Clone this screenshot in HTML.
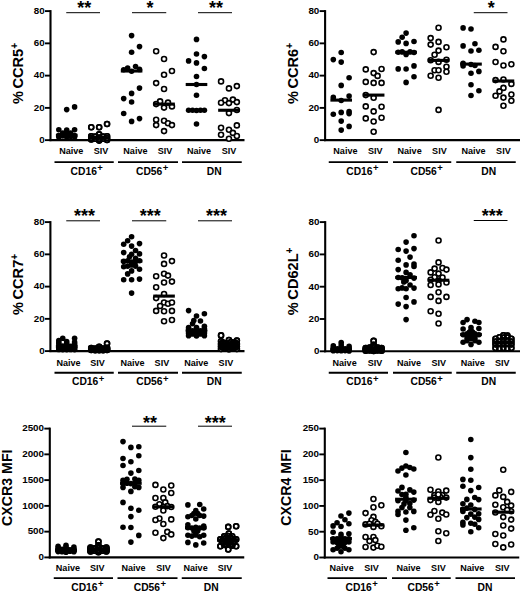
<!DOCTYPE html>
<html><head><meta charset="utf-8"><title>Figure</title>
<style>html,body{margin:0;padding:0;background:#fff}svg{display:block}text{font-family:"Liberation Sans",sans-serif;fill:#000}</style>
</head><body>
<svg width="520" height="593" viewBox="0 0 520 593">
<rect width="520" height="593" fill="#fff"/>
<path d="M50.5 10.1 V141.15" stroke="#000" stroke-width="2.1" fill="none"/>
<path d="M49.5 140.15 H244.5" stroke="#000" stroke-width="2.1" fill="none"/>
<path d="M45 140.15 H50.5" stroke="#000" stroke-width="1.9"/>
<text x="44.7" y="143" text-anchor="end" font-size="9.8" font-weight="bold">0</text>
<path d="M45 107.89 H50.5" stroke="#000" stroke-width="1.9"/>
<text x="44.7" y="110.74" text-anchor="end" font-size="9.8" font-weight="bold">20</text>
<path d="M45 75.62 H50.5" stroke="#000" stroke-width="1.9"/>
<text x="44.7" y="78.47" text-anchor="end" font-size="9.8" font-weight="bold">40</text>
<path d="M45 43.36 H50.5" stroke="#000" stroke-width="1.9"/>
<text x="44.7" y="46.21" text-anchor="end" font-size="9.8" font-weight="bold">60</text>
<path d="M45 11.1 H50.5" stroke="#000" stroke-width="1.9"/>
<text x="44.7" y="13.95" text-anchor="end" font-size="9.8" font-weight="bold">80</text>
<text transform="translate(23.4 73.53) rotate(-90)" text-anchor="middle" font-size="14.6" font-weight="bold">%<tspan dx="2.6">CCR5</tspan><tspan font-size="10" dy="-5">+</tspan></text>
<text x="71.25" y="153.95" text-anchor="middle" font-size="9.05" font-weight="bold">Naive</text>
<text x="101" y="153.95" text-anchor="middle" font-size="9.05" font-weight="bold">SIV</text>
<text x="135.4" y="153.95" text-anchor="middle" font-size="9.05" font-weight="bold">Naive</text>
<text x="165" y="153.95" text-anchor="middle" font-size="9.05" font-weight="bold">SIV</text>
<text x="199" y="153.95" text-anchor="middle" font-size="9.05" font-weight="bold">Naive</text>
<text x="229" y="153.95" text-anchor="middle" font-size="9.05" font-weight="bold">SIV</text>
<path d="M54.5 162.15 H113.75" stroke="#000" stroke-width="1.9"/>
<text x="70.6" y="174.85" font-size="10.3" font-weight="bold">CD16<tspan font-size="9.5" dx="0.3" dy="-3.7">+</tspan></text>
<path d="M118 162.15 H178" stroke="#000" stroke-width="1.9"/>
<text x="136" y="174.85" font-size="10.3" font-weight="bold">CD56<tspan font-size="9.5" dx="0.3" dy="-3.7">+</tspan></text>
<path d="M182 162.15 H241.75" stroke="#000" stroke-width="1.9"/>
<text x="206.75" y="174.85" font-size="10.3" font-weight="bold">DN</text>
<path d="M66.25 12.7 H100" stroke="#000" stroke-width="1"/>
<text x="84.2" y="14" text-anchor="middle" font-size="18" font-weight="bold">**</text>
<path d="M132 12.7 H166.25" stroke="#000" stroke-width="1"/>
<text x="150" y="14" text-anchor="middle" font-size="18" font-weight="bold">*</text>
<path d="M198 12.7 H232" stroke="#000" stroke-width="1"/>
<text x="216" y="14" text-anchor="middle" font-size="18" font-weight="bold">**</text>
<g fill="#000"><circle cx="66.7" cy="109.6" r="2.8"/><circle cx="74.6" cy="106.9" r="2.8"/><circle cx="58.8" cy="129.75" r="2.8"/><circle cx="66.7" cy="130" r="2.8"/><circle cx="74.6" cy="129.75" r="2.8"/><circle cx="58.8" cy="135.5" r="2.8"/><circle cx="62.75" cy="136" r="2.8"/><circle cx="66.7" cy="134" r="2.8"/><circle cx="70.65" cy="136.5" r="2.8"/><circle cx="74.6" cy="135.5" r="2.8"/><circle cx="62.75" cy="133" r="2.8"/><circle cx="70.65" cy="133" r="2.8"/><circle cx="66.7" cy="137" r="2.8"/><circle cx="58.8" cy="137" r="2.8"/><circle cx="74.6" cy="137" r="2.8"/></g>
<path d="M55.9 135.25 H77.5" stroke="#000" stroke-width="3.1"/>
<g fill="#fff" stroke="#000" stroke-width="1.6"><circle cx="107.05" cy="124" r="2.5"/><circle cx="91.25" cy="127.25" r="2.5"/><circle cx="99.15" cy="127.25" r="2.5"/><circle cx="91.25" cy="136.25" r="2.5"/><circle cx="99.15" cy="134.4" r="2.5"/><circle cx="107.05" cy="136.25" r="2.5"/><circle cx="91.25" cy="139.4" r="2.5"/><circle cx="95.2" cy="138.75" r="2.5"/><circle cx="99.15" cy="140.6" r="2.5"/><circle cx="103.1" cy="138.75" r="2.5"/><circle cx="107.05" cy="140" r="2.5"/><circle cx="95.2" cy="136.5" r="2.5"/><circle cx="103.1" cy="136.5" r="2.5"/><circle cx="99.15" cy="137.5" r="2.5"/><circle cx="91.25" cy="138" r="2.5"/><circle cx="107.05" cy="138.2" r="2.5"/><circle cx="99.15" cy="139" r="2.5"/></g>
<g fill="none" stroke="#000" stroke-width="1.6"><circle cx="107.05" cy="124" r="2.5"/><circle cx="91.25" cy="127.25" r="2.5"/><circle cx="99.15" cy="127.25" r="2.5"/><circle cx="91.25" cy="136.25" r="2.5"/><circle cx="99.15" cy="134.4" r="2.5"/><circle cx="107.05" cy="136.25" r="2.5"/><circle cx="91.25" cy="139.4" r="2.5"/><circle cx="95.2" cy="138.75" r="2.5"/><circle cx="99.15" cy="140.6" r="2.5"/><circle cx="103.1" cy="138.75" r="2.5"/><circle cx="107.05" cy="140" r="2.5"/><circle cx="95.2" cy="136.5" r="2.5"/><circle cx="103.1" cy="136.5" r="2.5"/><circle cx="99.15" cy="137.5" r="2.5"/><circle cx="91.25" cy="138" r="2.5"/><circle cx="107.05" cy="138.2" r="2.5"/><circle cx="99.15" cy="139" r="2.5"/></g>
<path d="M88.35 138 H109.95" stroke="#000" stroke-width="3.1"/>
<g fill="#000"><circle cx="131.6" cy="35.6" r="2.8"/><circle cx="139.5" cy="46.6" r="2.8"/><circle cx="131.6" cy="52.25" r="2.8"/><circle cx="135.55" cy="66.5" r="2.8"/><circle cx="127.65" cy="68.1" r="2.8"/><circle cx="123.7" cy="69.75" r="2.8"/><circle cx="131.6" cy="71.25" r="2.8"/><circle cx="139.5" cy="69.4" r="2.8"/><circle cx="139.5" cy="88.1" r="2.8"/><circle cx="131.6" cy="93.4" r="2.8"/><circle cx="123.7" cy="98.6" r="2.8"/><circle cx="131.6" cy="102" r="2.8"/><circle cx="123.7" cy="113.5" r="2.8"/><circle cx="139.5" cy="118.6" r="2.8"/><circle cx="131.6" cy="121.4" r="2.8"/></g>
<path d="M120.8 71 H142.4" stroke="#000" stroke-width="3.1"/>
<g fill="#fff" stroke="#000" stroke-width="1.6"><circle cx="156.15" cy="51.25" r="2.5"/><circle cx="164.05" cy="59" r="2.5"/><circle cx="171.95" cy="71" r="2.5"/><circle cx="164.05" cy="74.75" r="2.5"/><circle cx="156.15" cy="83.1" r="2.5"/><circle cx="164.05" cy="89" r="2.5"/><circle cx="160.1" cy="101.4" r="2.5"/><circle cx="168" cy="102.6" r="2.5"/><circle cx="156.15" cy="104.1" r="2.5"/><circle cx="164.05" cy="107.6" r="2.5"/><circle cx="171.95" cy="106.4" r="2.5"/><circle cx="156.15" cy="119.75" r="2.5"/><circle cx="156.15" cy="125.1" r="2.5"/><circle cx="164.05" cy="120.75" r="2.5"/><circle cx="168" cy="123.25" r="2.5"/><circle cx="171.95" cy="125.1" r="2.5"/><circle cx="164.05" cy="131.1" r="2.5"/></g>
<path d="M153.25 104.1 H174.85" stroke="#000" stroke-width="3.1"/>
<g fill="#000"><circle cx="196.5" cy="39.4" r="2.8"/><circle cx="196.5" cy="54" r="2.8"/><circle cx="204.4" cy="56.6" r="2.8"/><circle cx="188.6" cy="60.9" r="2.8"/><circle cx="196.5" cy="62.9" r="2.8"/><circle cx="204.4" cy="68.5" r="2.8"/><circle cx="196.5" cy="76.5" r="2.8"/><circle cx="196.5" cy="84.5" r="2.8"/><circle cx="196.5" cy="95.25" r="2.8"/><circle cx="188.6" cy="110.25" r="2.8"/><circle cx="192.55" cy="110.25" r="2.8"/><circle cx="196.5" cy="110.5" r="2.8"/><circle cx="200.45" cy="110.25" r="2.8"/><circle cx="204.4" cy="110.25" r="2.8"/><circle cx="196.5" cy="124" r="2.8"/></g>
<path d="M185.7 84.5 H207.3" stroke="#000" stroke-width="3.1"/>
<g fill="#fff" stroke="#000" stroke-width="1.6"><circle cx="221.05" cy="81.4" r="2.5"/><circle cx="236.85" cy="86.1" r="2.5"/><circle cx="228.95" cy="88.4" r="2.5"/><circle cx="225" cy="100.25" r="2.5"/><circle cx="232.9" cy="99.6" r="2.5"/><circle cx="221.05" cy="102.75" r="2.5"/><circle cx="228.95" cy="103.1" r="2.5"/><circle cx="236.85" cy="102.1" r="2.5"/><circle cx="236.85" cy="110" r="2.5"/><circle cx="228.95" cy="113.1" r="2.5"/><circle cx="236.85" cy="125.4" r="2.5"/><circle cx="221.05" cy="127.75" r="2.5"/><circle cx="228.95" cy="129.75" r="2.5"/><circle cx="232.9" cy="132.9" r="2.5"/><circle cx="221.05" cy="134.75" r="2.5"/><circle cx="236.85" cy="136" r="2.5"/><circle cx="228.95" cy="138.75" r="2.5"/></g>
<path d="M218.15 110.25 H239.75" stroke="#000" stroke-width="3.1"/>
<path d="M325.1 10.1 V141.15" stroke="#000" stroke-width="2.1" fill="none"/>
<path d="M324.1 140.15 H520" stroke="#000" stroke-width="2.1" fill="none"/>
<path d="M319.6 140.15 H325.1" stroke="#000" stroke-width="1.9"/>
<text x="319.3" y="143" text-anchor="end" font-size="9.8" font-weight="bold">0</text>
<path d="M319.6 107.89 H325.1" stroke="#000" stroke-width="1.9"/>
<text x="319.3" y="110.74" text-anchor="end" font-size="9.8" font-weight="bold">20</text>
<path d="M319.6 75.62 H325.1" stroke="#000" stroke-width="1.9"/>
<text x="319.3" y="78.47" text-anchor="end" font-size="9.8" font-weight="bold">40</text>
<path d="M319.6 43.36 H325.1" stroke="#000" stroke-width="1.9"/>
<text x="319.3" y="46.21" text-anchor="end" font-size="9.8" font-weight="bold">60</text>
<path d="M319.6 11.1 H325.1" stroke="#000" stroke-width="1.9"/>
<text x="319.3" y="13.95" text-anchor="end" font-size="9.8" font-weight="bold">80</text>
<text transform="translate(297.5 73.53) rotate(-90)" text-anchor="middle" font-size="14.6" font-weight="bold">%<tspan dx="2.6">CCR6</tspan><tspan font-size="10" dy="-5">+</tspan></text>
<text x="345.4" y="153.95" text-anchor="middle" font-size="9.05" font-weight="bold">Naive</text>
<text x="375.25" y="153.95" text-anchor="middle" font-size="9.05" font-weight="bold">SIV</text>
<text x="409.6" y="153.95" text-anchor="middle" font-size="9.05" font-weight="bold">Naive</text>
<text x="439.4" y="153.95" text-anchor="middle" font-size="9.05" font-weight="bold">SIV</text>
<text x="473.5" y="153.95" text-anchor="middle" font-size="9.05" font-weight="bold">Naive</text>
<text x="503.4" y="153.95" text-anchor="middle" font-size="9.05" font-weight="bold">SIV</text>
<path d="M328.75 162.15 H388" stroke="#000" stroke-width="1.9"/>
<text x="346.25" y="174.85" font-size="10.3" font-weight="bold">CD16<tspan font-size="9.5" dx="0.3" dy="-3.7">+</tspan></text>
<path d="M393 162.15 H451.25" stroke="#000" stroke-width="1.9"/>
<text x="410.5" y="174.85" font-size="10.3" font-weight="bold">CD56<tspan font-size="9.5" dx="0.3" dy="-3.7">+</tspan></text>
<path d="M456.25 162.15 H515.75" stroke="#000" stroke-width="1.9"/>
<text x="481.25" y="174.85" font-size="10.3" font-weight="bold">DN</text>
<path d="M473.75 12.7 H507.5" stroke="#000" stroke-width="1"/>
<text x="491.2" y="14" text-anchor="middle" font-size="18" font-weight="bold">*</text>
<g fill="#000"><circle cx="341.2" cy="52.5" r="2.8"/><circle cx="333.3" cy="59.6" r="2.8"/><circle cx="341.2" cy="62.1" r="2.8"/><circle cx="349.1" cy="77.75" r="2.8"/><circle cx="341.2" cy="85.4" r="2.8"/><circle cx="333.3" cy="97.4" r="2.8"/><circle cx="349.1" cy="96.1" r="2.8"/><circle cx="341.2" cy="100.5" r="2.8"/><circle cx="333.3" cy="114.25" r="2.8"/><circle cx="341.2" cy="112.4" r="2.8"/><circle cx="349.1" cy="111.5" r="2.8"/><circle cx="349.1" cy="113.6" r="2.8"/><circle cx="341.2" cy="121.1" r="2.8"/><circle cx="349.1" cy="126.4" r="2.8"/><circle cx="341.2" cy="130.1" r="2.8"/></g>
<path d="M330.4 100.1 H352" stroke="#000" stroke-width="3.1"/>
<g fill="#fff" stroke="#000" stroke-width="1.6"><circle cx="373.65" cy="52.1" r="2.5"/><circle cx="365.75" cy="69.4" r="2.5"/><circle cx="381.55" cy="69" r="2.5"/><circle cx="373.65" cy="73.1" r="2.5"/><circle cx="377.6" cy="75.9" r="2.5"/><circle cx="365.75" cy="81.9" r="2.5"/><circle cx="373.65" cy="82.9" r="2.5"/><circle cx="381.55" cy="82.9" r="2.5"/><circle cx="365.75" cy="95.1" r="2.5"/><circle cx="373.65" cy="97.75" r="2.5"/><circle cx="365.75" cy="106.4" r="2.5"/><circle cx="381.55" cy="106.75" r="2.5"/><circle cx="373.65" cy="111.4" r="2.5"/><circle cx="365.75" cy="118.4" r="2.5"/><circle cx="381.55" cy="117.75" r="2.5"/><circle cx="373.65" cy="121.5" r="2.5"/><circle cx="373.65" cy="131.75" r="2.5"/></g>
<path d="M362.85 95.1 H384.45" stroke="#000" stroke-width="3.1"/>
<g fill="#000"><circle cx="406.1" cy="33.1" r="2.8"/><circle cx="402.15" cy="37.25" r="2.8"/><circle cx="398.2" cy="41.9" r="2.8"/><circle cx="414" cy="41.5" r="2.8"/><circle cx="406.1" cy="43.4" r="2.8"/><circle cx="398.2" cy="52.25" r="2.8"/><circle cx="402.15" cy="51.9" r="2.8"/><circle cx="406.1" cy="54.4" r="2.8"/><circle cx="410.05" cy="51.9" r="2.8"/><circle cx="414" cy="52.5" r="2.8"/><circle cx="414" cy="65.9" r="2.8"/><circle cx="398.2" cy="68.9" r="2.8"/><circle cx="406.1" cy="69" r="2.8"/><circle cx="414" cy="76.75" r="2.8"/><circle cx="406.1" cy="82.4" r="2.8"/></g>
<path d="M395.3 52.25 H416.9" stroke="#000" stroke-width="3.1"/>
<g fill="#fff" stroke="#000" stroke-width="1.6"><circle cx="438.55" cy="27.75" r="2.5"/><circle cx="430.65" cy="38.1" r="2.5"/><circle cx="438.55" cy="41.9" r="2.5"/><circle cx="430.65" cy="44.6" r="2.5"/><circle cx="446.45" cy="47.25" r="2.5"/><circle cx="438.55" cy="50.6" r="2.5"/><circle cx="434.6" cy="54.75" r="2.5"/><circle cx="430.65" cy="60.25" r="2.5"/><circle cx="446.45" cy="59.75" r="2.5"/><circle cx="438.55" cy="61.9" r="2.5"/><circle cx="446.45" cy="66.75" r="2.5"/><circle cx="434.6" cy="70.25" r="2.5"/><circle cx="438.55" cy="70.25" r="2.5"/><circle cx="446.45" cy="71.75" r="2.5"/><circle cx="430.65" cy="75.75" r="2.5"/><circle cx="438.55" cy="77.75" r="2.5"/><circle cx="438.55" cy="109.9" r="2.5"/></g>
<path d="M427.75 60.4 H449.35" stroke="#000" stroke-width="3.1"/>
<g fill="#000"><circle cx="463.1" cy="27.9" r="2.8"/><circle cx="471" cy="29" r="2.8"/><circle cx="463.1" cy="45.9" r="2.8"/><circle cx="474.95" cy="43.75" r="2.8"/><circle cx="471" cy="51" r="2.8"/><circle cx="478.9" cy="50.25" r="2.8"/><circle cx="463.1" cy="63.25" r="2.8"/><circle cx="463.1" cy="66" r="2.8"/><circle cx="471" cy="64.5" r="2.8"/><circle cx="474.95" cy="65.5" r="2.8"/><circle cx="471" cy="73.25" r="2.8"/><circle cx="478.9" cy="71.4" r="2.8"/><circle cx="471" cy="84.75" r="2.8"/><circle cx="478.9" cy="90.75" r="2.8"/><circle cx="471" cy="95.5" r="2.8"/></g>
<path d="M460.2 64.1 H481.8" stroke="#000" stroke-width="3.1"/>
<g fill="#fff" stroke="#000" stroke-width="1.6"><circle cx="503.45" cy="39.4" r="2.5"/><circle cx="495.55" cy="46.9" r="2.5"/><circle cx="503.45" cy="51.25" r="2.5"/><circle cx="495.55" cy="62" r="2.5"/><circle cx="503.45" cy="65.5" r="2.5"/><circle cx="511.35" cy="64.2" r="2.5"/><circle cx="495.55" cy="80.1" r="2.5"/><circle cx="503.45" cy="79.5" r="2.5"/><circle cx="511.35" cy="83.9" r="2.5"/><circle cx="503.45" cy="87.9" r="2.5"/><circle cx="499.5" cy="91.4" r="2.5"/><circle cx="495.55" cy="95.75" r="2.5"/><circle cx="503.45" cy="97.6" r="2.5"/><circle cx="511.35" cy="94.5" r="2.5"/><circle cx="511.35" cy="100.75" r="2.5"/><circle cx="503.45" cy="105.75" r="2.5"/></g>
<path d="M492.65 81 H514.25" stroke="#000" stroke-width="3.1"/>
<path d="M50.4 221.1 V352.1" stroke="#000" stroke-width="2.1" fill="none"/>
<path d="M49.4 351.1 H244.5" stroke="#000" stroke-width="2.1" fill="none"/>
<path d="M44.9 351.1 H50.4" stroke="#000" stroke-width="1.9"/>
<text x="44.6" y="353.95" text-anchor="end" font-size="9.8" font-weight="bold">0</text>
<path d="M44.9 318.85 H50.4" stroke="#000" stroke-width="1.9"/>
<text x="44.6" y="321.7" text-anchor="end" font-size="9.8" font-weight="bold">20</text>
<path d="M44.9 286.6 H50.4" stroke="#000" stroke-width="1.9"/>
<text x="44.6" y="289.45" text-anchor="end" font-size="9.8" font-weight="bold">40</text>
<path d="M44.9 254.35 H50.4" stroke="#000" stroke-width="1.9"/>
<text x="44.6" y="257.2" text-anchor="end" font-size="9.8" font-weight="bold">60</text>
<path d="M44.9 222.1 H50.4" stroke="#000" stroke-width="1.9"/>
<text x="44.6" y="224.95" text-anchor="end" font-size="9.8" font-weight="bold">80</text>
<text transform="translate(22.9 284.5) rotate(-90)" text-anchor="middle" font-size="14.6" font-weight="bold">%<tspan dx="2.6">CCR7</tspan><tspan font-size="10" dy="-5">+</tspan></text>
<text x="68.5" y="365.6" text-anchor="middle" font-size="9.05" font-weight="bold">Naive</text>
<text x="97.5" y="365.6" text-anchor="middle" font-size="9.05" font-weight="bold">SIV</text>
<text x="132.5" y="365.6" text-anchor="middle" font-size="9.05" font-weight="bold">Naive</text>
<text x="161.9" y="365.6" text-anchor="middle" font-size="9.05" font-weight="bold">SIV</text>
<text x="196.25" y="365.6" text-anchor="middle" font-size="9.05" font-weight="bold">Naive</text>
<text x="225.9" y="365.6" text-anchor="middle" font-size="9.05" font-weight="bold">SIV</text>
<path d="M54.5 372.7 H113.75" stroke="#000" stroke-width="1.9"/>
<text x="72" y="385.4" font-size="10.3" font-weight="bold">CD16<tspan font-size="9.5" dx="0.3" dy="-3.7">+</tspan></text>
<path d="M118 372.7 H178" stroke="#000" stroke-width="1.9"/>
<text x="136.25" y="385.4" font-size="10.3" font-weight="bold">CD56<tspan font-size="9.5" dx="0.3" dy="-3.7">+</tspan></text>
<path d="M182 372.7 H241.75" stroke="#000" stroke-width="1.9"/>
<text x="206.75" y="385.4" font-size="10.3" font-weight="bold">DN</text>
<path d="M66.25 220.8 H100" stroke="#000" stroke-width="1"/>
<text x="84.4" y="221.9" text-anchor="middle" font-size="18" font-weight="bold">***</text>
<path d="M132 220.8 H166.25" stroke="#000" stroke-width="1"/>
<text x="150.25" y="221.9" text-anchor="middle" font-size="18" font-weight="bold">***</text>
<path d="M198 220.8 H232" stroke="#000" stroke-width="1"/>
<text x="216.6" y="221.9" text-anchor="middle" font-size="18" font-weight="bold">***</text>
<g fill="#000"><circle cx="62.75" cy="338.2" r="2.8"/><circle cx="74.6" cy="338.2" r="2.8"/><circle cx="58.8" cy="340.6" r="2.8"/><circle cx="66.7" cy="341.6" r="2.8"/><circle cx="58.8" cy="344" r="2.8"/><circle cx="74.6" cy="342" r="2.8"/><circle cx="70.65" cy="346.2" r="2.8"/><circle cx="62.75" cy="346" r="2.8"/><circle cx="66.7" cy="345" r="2.8"/><circle cx="74.6" cy="345.6" r="2.8"/><circle cx="58.8" cy="347.3" r="2.8"/><circle cx="70.65" cy="347.6" r="2.8"/><circle cx="62.75" cy="348.6" r="2.8"/><circle cx="66.7" cy="348.2" r="2.8"/><circle cx="74.6" cy="348.4" r="2.8"/><circle cx="58.8" cy="349.4" r="2.8"/><circle cx="70.65" cy="349.4" r="2.8"/><circle cx="66.7" cy="349.6" r="2.8"/><circle cx="62.75" cy="349.6" r="2.8"/><circle cx="74.6" cy="349.6" r="2.8"/><circle cx="58.8" cy="342.5" r="2.8"/><circle cx="66.7" cy="343.5" r="2.8"/><circle cx="70.65" cy="348.6" r="2.8"/><circle cx="62.75" cy="347.6" r="2.8"/><circle cx="74.6" cy="347" r="2.8"/><circle cx="66.7" cy="347" r="2.8"/><circle cx="58.8" cy="348.6" r="2.8"/><circle cx="74.6" cy="343.8" r="2.8"/></g>
<path d="M55.9 346.5 H77.5" stroke="#000" stroke-width="3.1"/>
<g fill="#fff" stroke="#000" stroke-width="1.6"><circle cx="107.05" cy="343.6" r="2.5"/><circle cx="91.25" cy="348" r="2.5"/><circle cx="99.15" cy="346.9" r="2.5"/><circle cx="107.05" cy="347.8" r="2.5"/><circle cx="91.25" cy="350" r="2.5"/><circle cx="95.2" cy="349.6" r="2.5"/><circle cx="99.15" cy="350.2" r="2.5"/><circle cx="103.1" cy="349.6" r="2.5"/><circle cx="107.05" cy="350" r="2.5"/><circle cx="95.2" cy="348.5" r="2.5"/><circle cx="103.1" cy="348.5" r="2.5"/><circle cx="99.15" cy="348.6" r="2.5"/><circle cx="91.25" cy="349" r="2.5"/><circle cx="107.05" cy="349" r="2.5"/><circle cx="93.15" cy="349.3" r="2.5"/><circle cx="97.15" cy="349.6" r="2.5"/><circle cx="101.15" cy="349.6" r="2.5"/><circle cx="105.15" cy="349.3" r="2.5"/><circle cx="99.15" cy="349.5" r="2.5"/><circle cx="95.2" cy="350.2" r="2.5"/><circle cx="103.1" cy="350.2" r="2.5"/></g>
<g fill="none" stroke="#000" stroke-width="1.6"><circle cx="107.05" cy="343.6" r="2.5"/><circle cx="91.25" cy="348" r="2.5"/><circle cx="99.15" cy="346.9" r="2.5"/><circle cx="107.05" cy="347.8" r="2.5"/><circle cx="91.25" cy="350" r="2.5"/><circle cx="95.2" cy="349.6" r="2.5"/><circle cx="99.15" cy="350.2" r="2.5"/><circle cx="103.1" cy="349.6" r="2.5"/><circle cx="107.05" cy="350" r="2.5"/><circle cx="95.2" cy="348.5" r="2.5"/><circle cx="103.1" cy="348.5" r="2.5"/><circle cx="99.15" cy="348.6" r="2.5"/><circle cx="91.25" cy="349" r="2.5"/><circle cx="107.05" cy="349" r="2.5"/><circle cx="93.15" cy="349.3" r="2.5"/><circle cx="97.15" cy="349.6" r="2.5"/><circle cx="101.15" cy="349.6" r="2.5"/><circle cx="105.15" cy="349.3" r="2.5"/><circle cx="99.15" cy="349.5" r="2.5"/><circle cx="95.2" cy="350.2" r="2.5"/><circle cx="103.1" cy="350.2" r="2.5"/></g>
<path d="M88.35 349.2 H109.95" stroke="#000" stroke-width="3.1"/>
<g fill="#000"><circle cx="131.6" cy="236.75" r="2.8"/><circle cx="127.65" cy="240.75" r="2.8"/><circle cx="123.7" cy="244.25" r="2.8"/><circle cx="139.5" cy="243.6" r="2.8"/><circle cx="131.6" cy="246.1" r="2.8"/><circle cx="135.55" cy="250.5" r="2.8"/><circle cx="123.7" cy="252.6" r="2.8"/><circle cx="139.5" cy="253.9" r="2.8"/><circle cx="131.6" cy="254.25" r="2.8"/><circle cx="129.5" cy="256.75" r="2.8"/><circle cx="135.55" cy="258.4" r="2.8"/><circle cx="123.7" cy="261.4" r="2.8"/><circle cx="127.65" cy="260.75" r="2.8"/><circle cx="139.5" cy="260.75" r="2.8"/><circle cx="131.6" cy="262.4" r="2.8"/><circle cx="135.55" cy="261.75" r="2.8"/><circle cx="123.7" cy="266.75" r="2.8"/><circle cx="127.65" cy="266.1" r="2.8"/><circle cx="131.6" cy="264.9" r="2.8"/><circle cx="135.55" cy="266.1" r="2.8"/><circle cx="139.5" cy="269.25" r="2.8"/><circle cx="131.6" cy="270.9" r="2.8"/><circle cx="127.65" cy="273.9" r="2.8"/><circle cx="123.7" cy="279.75" r="2.8"/><circle cx="131.6" cy="279.75" r="2.8"/><circle cx="139.5" cy="279.1" r="2.8"/><circle cx="131.6" cy="293.1" r="2.8"/></g>
<path d="M120.8 261.1 H142.4" stroke="#000" stroke-width="3.1"/>
<g fill="#fff" stroke="#000" stroke-width="1.6"><circle cx="164.05" cy="255.5" r="2.5"/><circle cx="171.95" cy="261.1" r="2.5"/><circle cx="164.05" cy="263.9" r="2.5"/><circle cx="164.05" cy="273.75" r="2.5"/><circle cx="156.15" cy="276.25" r="2.5"/><circle cx="168" cy="275.6" r="2.5"/><circle cx="164.05" cy="282.5" r="2.5"/><circle cx="171.95" cy="281.6" r="2.5"/><circle cx="156.15" cy="287.25" r="2.5"/><circle cx="164.05" cy="294" r="2.5"/><circle cx="156.15" cy="298.1" r="2.5"/><circle cx="164.05" cy="302.5" r="2.5"/><circle cx="168" cy="303.75" r="2.5"/><circle cx="171.95" cy="302.5" r="2.5"/><circle cx="160.1" cy="306" r="2.5"/><circle cx="156.15" cy="310.9" r="2.5"/><circle cx="164.05" cy="311.25" r="2.5"/><circle cx="171.95" cy="310.9" r="2.5"/><circle cx="164.05" cy="321.25" r="2.5"/><circle cx="171.95" cy="320" r="2.5"/></g>
<path d="M153.25 296.1 H174.85" stroke="#000" stroke-width="3.1"/>
<g fill="#000"><circle cx="188.6" cy="310.6" r="2.8"/><circle cx="204.4" cy="313.75" r="2.8"/><circle cx="196.5" cy="316" r="2.8"/><circle cx="193.8" cy="320.6" r="2.8"/><circle cx="200.45" cy="321" r="2.8"/><circle cx="192.55" cy="323.75" r="2.8"/><circle cx="196.5" cy="327.5" r="2.8"/><circle cx="188.6" cy="327.5" r="2.8"/><circle cx="204.4" cy="326.25" r="2.8"/><circle cx="188.6" cy="330.6" r="2.8"/><circle cx="192.55" cy="330.9" r="2.8"/><circle cx="196.5" cy="330.6" r="2.8"/><circle cx="200.45" cy="330.9" r="2.8"/><circle cx="204.4" cy="330.2" r="2.8"/><circle cx="188.6" cy="333.6" r="2.8"/><circle cx="192.55" cy="333.9" r="2.8"/><circle cx="196.5" cy="333.6" r="2.8"/><circle cx="200.45" cy="333.9" r="2.8"/><circle cx="204.4" cy="333.6" r="2.8"/><circle cx="188.6" cy="335.8" r="2.8"/><circle cx="196.5" cy="336" r="2.8"/><circle cx="204.4" cy="335.8" r="2.8"/><circle cx="196.5" cy="329" r="2.8"/><circle cx="188.6" cy="329" r="2.8"/><circle cx="204.4" cy="328.5" r="2.8"/><circle cx="196.5" cy="332" r="2.8"/></g>
<path d="M185.7 331 H207.3" stroke="#000" stroke-width="3.1"/>
<g fill="#fff" stroke="#000" stroke-width="1.6"><circle cx="221.05" cy="335.4" r="2.5"/><circle cx="228.95" cy="340" r="2.5"/><circle cx="236.85" cy="340.6" r="2.5"/><circle cx="221.05" cy="341.25" r="2.5"/><circle cx="221.05" cy="344" r="2.5"/><circle cx="225" cy="343.5" r="2.5"/><circle cx="228.95" cy="343.2" r="2.5"/><circle cx="232.9" cy="343.5" r="2.5"/><circle cx="236.85" cy="344" r="2.5"/><circle cx="221.05" cy="346.6" r="2.5"/><circle cx="225" cy="346.3" r="2.5"/><circle cx="228.95" cy="346.6" r="2.5"/><circle cx="232.9" cy="346.3" r="2.5"/><circle cx="236.85" cy="346.6" r="2.5"/><circle cx="221.05" cy="349" r="2.5"/><circle cx="225" cy="348.8" r="2.5"/><circle cx="228.95" cy="349.2" r="2.5"/><circle cx="232.9" cy="348.8" r="2.5"/><circle cx="236.85" cy="349" r="2.5"/><circle cx="228.95" cy="345" r="2.5"/><circle cx="232.9" cy="345" r="2.5"/><circle cx="222.95" cy="345" r="2.5"/><circle cx="226.95" cy="344.8" r="2.5"/><circle cx="230.95" cy="344.8" r="2.5"/><circle cx="234.95" cy="345" r="2.5"/><circle cx="222.95" cy="347.6" r="2.5"/><circle cx="226.95" cy="347.8" r="2.5"/><circle cx="230.95" cy="347.8" r="2.5"/><circle cx="234.95" cy="347.6" r="2.5"/><circle cx="222.95" cy="342.6" r="2.5"/><circle cx="230.95" cy="342" r="2.5"/><circle cx="234.95" cy="342.6" r="2.5"/></g>
<g fill="none" stroke="#000" stroke-width="1.6"><circle cx="221.05" cy="335.4" r="2.5"/><circle cx="228.95" cy="340" r="2.5"/><circle cx="236.85" cy="340.6" r="2.5"/><circle cx="221.05" cy="341.25" r="2.5"/><circle cx="221.05" cy="344" r="2.5"/><circle cx="225" cy="343.5" r="2.5"/><circle cx="228.95" cy="343.2" r="2.5"/><circle cx="232.9" cy="343.5" r="2.5"/><circle cx="236.85" cy="344" r="2.5"/><circle cx="221.05" cy="346.6" r="2.5"/><circle cx="225" cy="346.3" r="2.5"/><circle cx="228.95" cy="346.6" r="2.5"/><circle cx="232.9" cy="346.3" r="2.5"/><circle cx="236.85" cy="346.6" r="2.5"/><circle cx="221.05" cy="349" r="2.5"/><circle cx="225" cy="348.8" r="2.5"/><circle cx="228.95" cy="349.2" r="2.5"/><circle cx="232.9" cy="348.8" r="2.5"/><circle cx="236.85" cy="349" r="2.5"/><circle cx="228.95" cy="345" r="2.5"/><circle cx="232.9" cy="345" r="2.5"/><circle cx="222.95" cy="345" r="2.5"/><circle cx="226.95" cy="344.8" r="2.5"/><circle cx="230.95" cy="344.8" r="2.5"/><circle cx="234.95" cy="345" r="2.5"/><circle cx="222.95" cy="347.6" r="2.5"/><circle cx="226.95" cy="347.8" r="2.5"/><circle cx="230.95" cy="347.8" r="2.5"/><circle cx="234.95" cy="347.6" r="2.5"/><circle cx="222.95" cy="342.6" r="2.5"/><circle cx="230.95" cy="342" r="2.5"/><circle cx="234.95" cy="342.6" r="2.5"/></g>
<path d="M218.15 346 H239.75" stroke="#000" stroke-width="3.1"/>
<path d="M325.2 221.1 V352.3" stroke="#000" stroke-width="2.1" fill="none"/>
<path d="M324.2 351.3 H520" stroke="#000" stroke-width="2.1" fill="none"/>
<path d="M319.7 351.3 H325.2" stroke="#000" stroke-width="1.9"/>
<text x="319.4" y="354.15" text-anchor="end" font-size="9.8" font-weight="bold">0</text>
<path d="M319.7 319 H325.2" stroke="#000" stroke-width="1.9"/>
<text x="319.4" y="321.85" text-anchor="end" font-size="9.8" font-weight="bold">20</text>
<path d="M319.7 286.7 H325.2" stroke="#000" stroke-width="1.9"/>
<text x="319.4" y="289.55" text-anchor="end" font-size="9.8" font-weight="bold">40</text>
<path d="M319.7 254.4 H325.2" stroke="#000" stroke-width="1.9"/>
<text x="319.4" y="257.25" text-anchor="end" font-size="9.8" font-weight="bold">60</text>
<path d="M319.7 222.1 H325.2" stroke="#000" stroke-width="1.9"/>
<text x="319.4" y="224.95" text-anchor="end" font-size="9.8" font-weight="bold">80</text>
<text transform="translate(297.7 281.4) rotate(-90)" text-anchor="middle" font-size="14.6" font-weight="bold">%<tspan dx="2.6">CD62L</tspan><tspan font-size="10" dy="-5">+</tspan></text>
<text x="344.6" y="365.6" text-anchor="middle" font-size="9.05" font-weight="bold">Naive</text>
<text x="375" y="365.6" text-anchor="middle" font-size="9.05" font-weight="bold">SIV</text>
<text x="409" y="365.6" text-anchor="middle" font-size="9.05" font-weight="bold">Naive</text>
<text x="438.75" y="365.6" text-anchor="middle" font-size="9.05" font-weight="bold">SIV</text>
<text x="472.75" y="365.6" text-anchor="middle" font-size="9.05" font-weight="bold">Naive</text>
<text x="502.25" y="365.6" text-anchor="middle" font-size="9.05" font-weight="bold">SIV</text>
<path d="M328.75 372.7 H388" stroke="#000" stroke-width="1.9"/>
<text x="346.25" y="385.4" font-size="10.3" font-weight="bold">CD16<tspan font-size="9.5" dx="0.3" dy="-3.7">+</tspan></text>
<path d="M393 372.7 H451.75" stroke="#000" stroke-width="1.9"/>
<text x="410.5" y="385.4" font-size="10.3" font-weight="bold">CD56<tspan font-size="9.5" dx="0.3" dy="-3.7">+</tspan></text>
<path d="M456.25 372.7 H515.75" stroke="#000" stroke-width="1.9"/>
<text x="481.25" y="385.4" font-size="10.3" font-weight="bold">DN</text>
<path d="M473.75 220.5 H507.5" stroke="#000" stroke-width="1"/>
<text x="492.25" y="221.6" text-anchor="middle" font-size="18" font-weight="bold">***</text>
<g fill="#000"><circle cx="341.2" cy="342.6" r="2.8"/><circle cx="341.2" cy="345" r="2.8"/><circle cx="341.2" cy="347.3" r="2.8"/><circle cx="341.2" cy="349.4" r="2.8"/><circle cx="341.2" cy="350.8" r="2.8"/><circle cx="333.3" cy="345.75" r="2.8"/><circle cx="333.3" cy="347.8" r="2.8"/><circle cx="333.3" cy="349.6" r="2.8"/><circle cx="333.3" cy="350.8" r="2.8"/><circle cx="349.1" cy="346.4" r="2.8"/><circle cx="349.1" cy="348.3" r="2.8"/><circle cx="349.1" cy="350" r="2.8"/><circle cx="349.1" cy="350.9" r="2.8"/><circle cx="337.25" cy="348.8" r="2.8"/><circle cx="337.25" cy="350.6" r="2.8"/><circle cx="345.15" cy="348.8" r="2.8"/><circle cx="345.15" cy="350.6" r="2.8"/><circle cx="341.2" cy="348.4" r="2.8"/><circle cx="333.3" cy="348.8" r="2.8"/><circle cx="349.1" cy="349.2" r="2.8"/><circle cx="341.2" cy="350.2" r="2.8"/><circle cx="337.25" cy="349.7" r="2.8"/><circle cx="345.15" cy="349.7" r="2.8"/></g>
<path d="M330.4 350 H352" stroke="#000" stroke-width="3.1"/>
<g fill="#fff" stroke="#000" stroke-width="1.6"><circle cx="373.65" cy="340.9" r="2.5"/><circle cx="373.65" cy="344.75" r="2.5"/><circle cx="365.75" cy="348.1" r="2.5"/><circle cx="369.7" cy="347.5" r="2.5"/><circle cx="377.6" cy="347.5" r="2.5"/><circle cx="381.55" cy="348.1" r="2.5"/><circle cx="365.75" cy="350.8" r="2.5"/><circle cx="369.7" cy="350.4" r="2.5"/><circle cx="373.65" cy="351" r="2.5"/><circle cx="377.6" cy="350.4" r="2.5"/><circle cx="381.55" cy="350.8" r="2.5"/><circle cx="373.65" cy="348.2" r="2.5"/><circle cx="369.7" cy="349" r="2.5"/><circle cx="377.6" cy="349" r="2.5"/><circle cx="365.75" cy="349.5" r="2.5"/><circle cx="381.55" cy="349.5" r="2.5"/><circle cx="373.65" cy="349.6" r="2.5"/><circle cx="373.65" cy="347" r="2.5"/><circle cx="371.65" cy="350" r="2.5"/><circle cx="375.65" cy="350" r="2.5"/><circle cx="367.65" cy="349.8" r="2.5"/><circle cx="379.65" cy="349.8" r="2.5"/></g>
<g fill="none" stroke="#000" stroke-width="1.6"><circle cx="373.65" cy="340.9" r="2.5"/><circle cx="373.65" cy="344.75" r="2.5"/><circle cx="365.75" cy="348.1" r="2.5"/><circle cx="369.7" cy="347.5" r="2.5"/><circle cx="377.6" cy="347.5" r="2.5"/><circle cx="381.55" cy="348.1" r="2.5"/><circle cx="365.75" cy="350.8" r="2.5"/><circle cx="369.7" cy="350.4" r="2.5"/><circle cx="373.65" cy="351" r="2.5"/><circle cx="377.6" cy="350.4" r="2.5"/><circle cx="381.55" cy="350.8" r="2.5"/><circle cx="373.65" cy="348.2" r="2.5"/><circle cx="369.7" cy="349" r="2.5"/><circle cx="377.6" cy="349" r="2.5"/><circle cx="365.75" cy="349.5" r="2.5"/><circle cx="381.55" cy="349.5" r="2.5"/><circle cx="373.65" cy="349.6" r="2.5"/><circle cx="373.65" cy="347" r="2.5"/><circle cx="371.65" cy="350" r="2.5"/><circle cx="375.65" cy="350" r="2.5"/><circle cx="367.65" cy="349.8" r="2.5"/><circle cx="379.65" cy="349.8" r="2.5"/></g>
<path d="M362.85 349.8 H384.45" stroke="#000" stroke-width="3.1"/>
<g fill="#000"><circle cx="414" cy="235.75" r="2.8"/><circle cx="406.1" cy="242.1" r="2.8"/><circle cx="398.2" cy="249.5" r="2.8"/><circle cx="414" cy="248.6" r="2.8"/><circle cx="406.1" cy="251.1" r="2.8"/><circle cx="410.05" cy="257.1" r="2.8"/><circle cx="398.2" cy="260.25" r="2.8"/><circle cx="406.1" cy="264.9" r="2.8"/><circle cx="414" cy="264" r="2.8"/><circle cx="414" cy="266.5" r="2.8"/><circle cx="398.2" cy="269.6" r="2.8"/><circle cx="406.1" cy="272.4" r="2.8"/><circle cx="410.05" cy="274.9" r="2.8"/><circle cx="398.2" cy="277.5" r="2.8"/><circle cx="414" cy="278.1" r="2.8"/><circle cx="406.1" cy="280.6" r="2.8"/><circle cx="403.8" cy="281.9" r="2.8"/><circle cx="410.05" cy="285" r="2.8"/><circle cx="398.2" cy="288.75" r="2.8"/><circle cx="402.15" cy="287.9" r="2.8"/><circle cx="406.1" cy="288.75" r="2.8"/><circle cx="414" cy="288.1" r="2.8"/><circle cx="406.1" cy="297.5" r="2.8"/><circle cx="414" cy="301.9" r="2.8"/><circle cx="398.2" cy="304.1" r="2.8"/><circle cx="406.1" cy="306.6" r="2.8"/><circle cx="406.1" cy="319.6" r="2.8"/><circle cx="402.15" cy="277.8" r="2.8"/></g>
<path d="M395.3 277.5 H416.9" stroke="#000" stroke-width="3.1"/>
<g fill="#fff" stroke="#000" stroke-width="1.6"><circle cx="438.55" cy="240.5" r="2.5"/><circle cx="438.55" cy="262.4" r="2.5"/><circle cx="434.6" cy="268.6" r="2.5"/><circle cx="442.5" cy="268" r="2.5"/><circle cx="446.45" cy="269.6" r="2.5"/><circle cx="430.65" cy="272.4" r="2.5"/><circle cx="438.55" cy="273.6" r="2.5"/><circle cx="434.6" cy="277.25" r="2.5"/><circle cx="442.5" cy="277.5" r="2.5"/><circle cx="430.65" cy="279.75" r="2.5"/><circle cx="438.55" cy="280.6" r="2.5"/><circle cx="446.45" cy="282.5" r="2.5"/><circle cx="430.65" cy="285" r="2.5"/><circle cx="438.55" cy="284.4" r="2.5"/><circle cx="438.55" cy="292.25" r="2.5"/><circle cx="430.65" cy="296.9" r="2.5"/><circle cx="446.45" cy="296.9" r="2.5"/><circle cx="438.55" cy="300.9" r="2.5"/><circle cx="430.65" cy="311.25" r="2.5"/><circle cx="438.55" cy="313.75" r="2.5"/><circle cx="438.55" cy="323.5" r="2.5"/></g>
<path d="M427.75 280.25 H449.35" stroke="#000" stroke-width="3.1"/>
<g fill="#000"><circle cx="467.05" cy="319.6" r="2.8"/><circle cx="463.1" cy="322.5" r="2.8"/><circle cx="474.95" cy="321.25" r="2.8"/><circle cx="478.9" cy="322.5" r="2.8"/><circle cx="471" cy="327.5" r="2.8"/><circle cx="463.1" cy="329" r="2.8"/><circle cx="478.9" cy="328.5" r="2.8"/><circle cx="463.1" cy="334.75" r="2.8"/><circle cx="467.05" cy="333.75" r="2.8"/><circle cx="471" cy="333" r="2.8"/><circle cx="474.95" cy="333.75" r="2.8"/><circle cx="478.9" cy="334.75" r="2.8"/><circle cx="471" cy="330.6" r="2.8"/><circle cx="468.7" cy="336.25" r="2.8"/><circle cx="473.3" cy="336.25" r="2.8"/><circle cx="471" cy="338.75" r="2.8"/><circle cx="467.05" cy="338" r="2.8"/><circle cx="474.95" cy="338" r="2.8"/><circle cx="463.1" cy="342.25" r="2.8"/><circle cx="478.9" cy="342.25" r="2.8"/><circle cx="467.05" cy="340.6" r="2.8"/><circle cx="474.95" cy="340.6" r="2.8"/><circle cx="471" cy="344.4" r="2.8"/><circle cx="471" cy="335" r="2.8"/><circle cx="471" cy="336.8" r="2.8"/><circle cx="469.5" cy="332" r="2.8"/><circle cx="472.5" cy="332" r="2.8"/></g>
<path d="M460.2 334.4 H481.8" stroke="#000" stroke-width="3.1"/>
<g fill="#fff" stroke="#000" stroke-width="1.6"><circle cx="503.45" cy="335.2" r="2.5"/><circle cx="507.4" cy="335.6" r="2.5"/><circle cx="499.5" cy="337.25" r="2.5"/><circle cx="503.45" cy="337.6" r="2.5"/><circle cx="507.4" cy="337.5" r="2.5"/><circle cx="495.55" cy="338.7" r="2.5"/><circle cx="511.35" cy="338.7" r="2.5"/><circle cx="495.55" cy="341.5" r="2.5"/><circle cx="499.5" cy="341" r="2.5"/><circle cx="503.45" cy="341.25" r="2.5"/><circle cx="507.4" cy="341" r="2.5"/><circle cx="511.35" cy="341.5" r="2.5"/><circle cx="495.55" cy="344.6" r="2.5"/><circle cx="499.5" cy="344.2" r="2.5"/><circle cx="503.45" cy="344.4" r="2.5"/><circle cx="507.4" cy="344.2" r="2.5"/><circle cx="511.35" cy="344.6" r="2.5"/><circle cx="495.55" cy="348.1" r="2.5"/><circle cx="499.5" cy="348.4" r="2.5"/><circle cx="503.45" cy="348.1" r="2.5"/><circle cx="507.4" cy="348.4" r="2.5"/><circle cx="511.35" cy="348.1" r="2.5"/></g>
<g fill="none" stroke="#000" stroke-width="1.6"><circle cx="503.45" cy="335.2" r="2.5"/><circle cx="507.4" cy="335.6" r="2.5"/><circle cx="499.5" cy="337.25" r="2.5"/><circle cx="503.45" cy="337.6" r="2.5"/><circle cx="507.4" cy="337.5" r="2.5"/><circle cx="495.55" cy="338.7" r="2.5"/><circle cx="511.35" cy="338.7" r="2.5"/><circle cx="495.55" cy="341.5" r="2.5"/><circle cx="499.5" cy="341" r="2.5"/><circle cx="503.45" cy="341.25" r="2.5"/><circle cx="507.4" cy="341" r="2.5"/><circle cx="511.35" cy="341.5" r="2.5"/><circle cx="495.55" cy="344.6" r="2.5"/><circle cx="499.5" cy="344.2" r="2.5"/><circle cx="503.45" cy="344.4" r="2.5"/><circle cx="507.4" cy="344.2" r="2.5"/><circle cx="511.35" cy="344.6" r="2.5"/><circle cx="495.55" cy="348.1" r="2.5"/><circle cx="499.5" cy="348.4" r="2.5"/><circle cx="503.45" cy="348.1" r="2.5"/><circle cx="507.4" cy="348.4" r="2.5"/><circle cx="511.35" cy="348.1" r="2.5"/></g>
<path d="M492.65 343 H514.25" stroke="#000" stroke-width="3.1"/>
<path d="M49.8 427.6 V558.4" stroke="#000" stroke-width="2.1" fill="none"/>
<path d="M48.8 557.4 H244.25" stroke="#000" stroke-width="2.1" fill="none"/>
<path d="M44.3 557.4 H49.8" stroke="#000" stroke-width="1.9"/>
<text x="44" y="560.25" text-anchor="end" font-size="9.8" font-weight="bold">0</text>
<path d="M44.3 531.64 H49.8" stroke="#000" stroke-width="1.9"/>
<text x="44" y="534.49" text-anchor="end" font-size="9.8" font-weight="bold">500</text>
<path d="M44.3 505.88 H49.8" stroke="#000" stroke-width="1.9"/>
<text x="44" y="508.73" text-anchor="end" font-size="9.8" font-weight="bold">1000</text>
<path d="M44.3 480.12 H49.8" stroke="#000" stroke-width="1.9"/>
<text x="44" y="482.97" text-anchor="end" font-size="9.8" font-weight="bold">1500</text>
<path d="M44.3 454.36 H49.8" stroke="#000" stroke-width="1.9"/>
<text x="44" y="457.21" text-anchor="end" font-size="9.8" font-weight="bold">2000</text>
<path d="M44.3 428.6 H49.8" stroke="#000" stroke-width="1.9"/>
<text x="44" y="431.45" text-anchor="end" font-size="9.8" font-weight="bold">2500</text>
<text transform="translate(12 487.7) rotate(-90)" text-anchor="middle" font-size="14.2" font-weight="bold">CXCR3 MFI</text>
<text x="67.9" y="570.8" text-anchor="middle" font-size="9.05" font-weight="bold">Naive</text>
<text x="97.25" y="570.8" text-anchor="middle" font-size="9.05" font-weight="bold">SIV</text>
<text x="133.5" y="570.8" text-anchor="middle" font-size="9.05" font-weight="bold">Naive</text>
<text x="163.5" y="570.8" text-anchor="middle" font-size="9.05" font-weight="bold">SIV</text>
<text x="195.6" y="570.8" text-anchor="middle" font-size="9.05" font-weight="bold">Naive</text>
<text x="225" y="570.8" text-anchor="middle" font-size="9.05" font-weight="bold">SIV</text>
<path d="M53.75 578.1 H113" stroke="#000" stroke-width="1.9"/>
<text x="71.25" y="590.8" font-size="10.3" font-weight="bold">CD16<tspan font-size="9.5" dx="0.3" dy="-3.7">+</tspan></text>
<path d="M117.5 578.1 H177.5" stroke="#000" stroke-width="1.9"/>
<text x="133.75" y="590.8" font-size="10.3" font-weight="bold">CD56<tspan font-size="9.5" dx="0.3" dy="-3.7">+</tspan></text>
<path d="M181.75 578.1 H241.75" stroke="#000" stroke-width="1.9"/>
<text x="203.75" y="590.8" font-size="10.3" font-weight="bold">DN</text>
<path d="M132 426.2 H166.25" stroke="#000" stroke-width="1"/>
<text x="150.1" y="428.6" text-anchor="middle" font-size="18" font-weight="bold">**</text>
<path d="M198 426.2 H232" stroke="#000" stroke-width="1"/>
<text x="215.25" y="428.6" text-anchor="middle" font-size="18" font-weight="bold">***</text>
<g fill="#000"><circle cx="58.1" cy="546.3" r="2.8"/><circle cx="58.1" cy="548.4" r="2.8"/><circle cx="58.1" cy="550.4" r="2.8"/><circle cx="58.1" cy="551.6" r="2.8"/><circle cx="66" cy="545.2" r="2.8"/><circle cx="66" cy="547.4" r="2.8"/><circle cx="66" cy="549.6" r="2.8"/><circle cx="66" cy="551.4" r="2.8"/><circle cx="66" cy="552.2" r="2.8"/><circle cx="73.9" cy="547" r="2.8"/><circle cx="73.9" cy="549" r="2.8"/><circle cx="73.9" cy="550.8" r="2.8"/><circle cx="73.9" cy="551.8" r="2.8"/><circle cx="62.05" cy="549.4" r="2.8"/><circle cx="62.05" cy="551" r="2.8"/><circle cx="69.95" cy="549.8" r="2.8"/><circle cx="69.95" cy="551.2" r="2.8"/><circle cx="60" cy="550" r="2.8"/><circle cx="72" cy="550.2" r="2.8"/><circle cx="64" cy="550.6" r="2.8"/><circle cx="68" cy="550.8" r="2.8"/><circle cx="58.1" cy="549.6" r="2.8"/><circle cx="73.9" cy="550" r="2.8"/><circle cx="66" cy="548.6" r="2.8"/><circle cx="66" cy="550.6" r="2.8"/><circle cx="62.05" cy="550.2" r="2.8"/><circle cx="69.95" cy="550.6" r="2.8"/><circle cx="62.05" cy="551.8" r="2.8"/></g>
<path d="M55.2 550.2 H76.8" stroke="#000" stroke-width="3.1"/>
<g fill="#fff" stroke="#000" stroke-width="1.6"><circle cx="98.45" cy="541.6" r="2.5"/><circle cx="98.45" cy="545.4" r="2.5"/><circle cx="90.55" cy="547.6" r="2.5"/><circle cx="90.55" cy="550.4" r="2.5"/><circle cx="106.35" cy="547.6" r="2.5"/><circle cx="106.35" cy="550.4" r="2.5"/><circle cx="94.5" cy="549.4" r="2.5"/><circle cx="102.4" cy="549.4" r="2.5"/><circle cx="98.45" cy="548.4" r="2.5"/><circle cx="98.45" cy="551.2" r="2.5"/><circle cx="90.55" cy="549" r="2.5"/><circle cx="106.35" cy="549" r="2.5"/><circle cx="94.5" cy="550.8" r="2.5"/><circle cx="102.4" cy="550.8" r="2.5"/><circle cx="94.5" cy="548.4" r="2.5"/><circle cx="102.4" cy="548.4" r="2.5"/><circle cx="98.45" cy="549.9" r="2.5"/><circle cx="90.55" cy="551.5" r="2.5"/><circle cx="106.35" cy="551.5" r="2.5"/><circle cx="98.45" cy="547.2" r="2.5"/><circle cx="98.45" cy="552.2" r="2.5"/></g>
<g fill="none" stroke="#000" stroke-width="1.6"><circle cx="98.45" cy="541.6" r="2.5"/><circle cx="98.45" cy="545.4" r="2.5"/><circle cx="90.55" cy="547.6" r="2.5"/><circle cx="90.55" cy="550.4" r="2.5"/><circle cx="106.35" cy="547.6" r="2.5"/><circle cx="106.35" cy="550.4" r="2.5"/><circle cx="94.5" cy="549.4" r="2.5"/><circle cx="102.4" cy="549.4" r="2.5"/><circle cx="98.45" cy="548.4" r="2.5"/><circle cx="98.45" cy="551.2" r="2.5"/><circle cx="90.55" cy="549" r="2.5"/><circle cx="106.35" cy="549" r="2.5"/><circle cx="94.5" cy="550.8" r="2.5"/><circle cx="102.4" cy="550.8" r="2.5"/><circle cx="94.5" cy="548.4" r="2.5"/><circle cx="102.4" cy="548.4" r="2.5"/><circle cx="98.45" cy="549.9" r="2.5"/><circle cx="90.55" cy="551.5" r="2.5"/><circle cx="106.35" cy="551.5" r="2.5"/><circle cx="98.45" cy="547.2" r="2.5"/><circle cx="98.45" cy="552.2" r="2.5"/></g>
<path d="M87.65 549.8 H109.25" stroke="#000" stroke-width="3.1"/>
<g fill="#000"><circle cx="123" cy="441.6" r="2.8"/><circle cx="130.9" cy="447.4" r="2.8"/><circle cx="138.8" cy="446.75" r="2.8"/><circle cx="138.8" cy="455.75" r="2.8"/><circle cx="123" cy="458.5" r="2.8"/><circle cx="130.9" cy="461.75" r="2.8"/><circle cx="123" cy="465.5" r="2.8"/><circle cx="138.8" cy="470.5" r="2.8"/><circle cx="130.9" cy="473.1" r="2.8"/><circle cx="123" cy="480.3" r="2.8"/><circle cx="126.95" cy="479.2" r="2.8"/><circle cx="134.85" cy="479.1" r="2.8"/><circle cx="138.8" cy="480.3" r="2.8"/><circle cx="130.9" cy="483.6" r="2.8"/><circle cx="126.95" cy="483.2" r="2.8"/><circle cx="134.85" cy="483.4" r="2.8"/><circle cx="123" cy="483.4" r="2.8"/><circle cx="123" cy="487.4" r="2.8"/><circle cx="134.85" cy="486.75" r="2.8"/><circle cx="138.8" cy="487.4" r="2.8"/><circle cx="130.9" cy="491.4" r="2.8"/><circle cx="123" cy="502.4" r="2.8"/><circle cx="130.9" cy="508.3" r="2.8"/><circle cx="138.8" cy="510.25" r="2.8"/><circle cx="130.9" cy="516.6" r="2.8"/><circle cx="123" cy="527.25" r="2.8"/><circle cx="130.9" cy="527.5" r="2.8"/><circle cx="138.8" cy="535.4" r="2.8"/><circle cx="130.9" cy="542.1" r="2.8"/></g>
<path d="M120.1 483.3 H141.7" stroke="#000" stroke-width="3.1"/>
<g fill="#fff" stroke="#000" stroke-width="1.6"><circle cx="155.45" cy="484.9" r="2.5"/><circle cx="171.25" cy="485.5" r="2.5"/><circle cx="163.35" cy="489.5" r="2.5"/><circle cx="171.25" cy="493" r="2.5"/><circle cx="155.45" cy="498" r="2.5"/><circle cx="163.35" cy="498" r="2.5"/><circle cx="165.25" cy="502.4" r="2.5"/><circle cx="159.4" cy="504.25" r="2.5"/><circle cx="155.45" cy="506.75" r="2.5"/><circle cx="171.25" cy="507" r="2.5"/><circle cx="167.3" cy="506.1" r="2.5"/><circle cx="163.35" cy="507" r="2.5"/><circle cx="163.35" cy="510.5" r="2.5"/><circle cx="159.4" cy="518.5" r="2.5"/><circle cx="171.25" cy="519.4" r="2.5"/><circle cx="155.45" cy="520" r="2.5"/><circle cx="163.35" cy="524" r="2.5"/><circle cx="155.45" cy="532.75" r="2.5"/><circle cx="167.3" cy="531.9" r="2.5"/><circle cx="171.25" cy="534.4" r="2.5"/><circle cx="163.35" cy="538.1" r="2.5"/></g>
<path d="M152.55 506.8 H174.15" stroke="#000" stroke-width="3.1"/>
<g fill="#000"><circle cx="187.9" cy="504.9" r="2.8"/><circle cx="199.75" cy="504.5" r="2.8"/><circle cx="203.7" cy="509" r="2.8"/><circle cx="195.8" cy="510.5" r="2.8"/><circle cx="193.9" cy="513.6" r="2.8"/><circle cx="197.7" cy="513.6" r="2.8"/><circle cx="187.9" cy="516.75" r="2.8"/><circle cx="191.85" cy="515.5" r="2.8"/><circle cx="199.75" cy="515.5" r="2.8"/><circle cx="203.7" cy="516.1" r="2.8"/><circle cx="195.8" cy="519" r="2.8"/><circle cx="187.9" cy="524.9" r="2.8"/><circle cx="203.7" cy="526.1" r="2.8"/><circle cx="191.85" cy="528" r="2.8"/><circle cx="195.8" cy="527.4" r="2.8"/><circle cx="199.75" cy="528" r="2.8"/><circle cx="187.9" cy="527.75" r="2.8"/><circle cx="193.9" cy="531.1" r="2.8"/><circle cx="197.7" cy="531.1" r="2.8"/><circle cx="187.9" cy="535.25" r="2.8"/><circle cx="191.85" cy="536.1" r="2.8"/><circle cx="195.8" cy="534.9" r="2.8"/><circle cx="199.75" cy="536.75" r="2.8"/><circle cx="203.7" cy="535.25" r="2.8"/><circle cx="187.9" cy="542.4" r="2.8"/><circle cx="195.8" cy="544.9" r="2.8"/><circle cx="203.7" cy="543" r="2.8"/><circle cx="203.7" cy="528" r="2.8"/></g>
<path d="M185 527.75 H206.6" stroke="#000" stroke-width="3.1"/>
<g fill="#fff" stroke="#000" stroke-width="1.6"><circle cx="228.25" cy="526.9" r="2.5"/><circle cx="236.15" cy="526.25" r="2.5"/><circle cx="228.85" cy="533.5" r="2.5"/><circle cx="224.3" cy="536.25" r="2.5"/><circle cx="232.2" cy="536.25" r="2.5"/><circle cx="220.35" cy="539.4" r="2.5"/><circle cx="224.3" cy="539" r="2.5"/><circle cx="228.25" cy="538.5" r="2.5"/><circle cx="232.2" cy="539" r="2.5"/><circle cx="236.15" cy="539.4" r="2.5"/><circle cx="222.55" cy="542.5" r="2.5"/><circle cx="226.35" cy="542.5" r="2.5"/><circle cx="230.15" cy="542.5" r="2.5"/><circle cx="233.95" cy="542.5" r="2.5"/><circle cx="220.35" cy="546.25" r="2.5"/><circle cx="236.15" cy="546.25" r="2.5"/><circle cx="232.2" cy="545.6" r="2.5"/><circle cx="228.25" cy="549.4" r="2.5"/><circle cx="224.3" cy="545" r="2.5"/><circle cx="228.25" cy="541" r="2.5"/><circle cx="228.25" cy="536" r="2.5"/><circle cx="226.25" cy="540.5" r="2.5"/><circle cx="230.25" cy="540.5" r="2.5"/><circle cx="228.25" cy="543.8" r="2.5"/><circle cx="226.25" cy="537.6" r="2.5"/><circle cx="230.25" cy="537.6" r="2.5"/><circle cx="222.45" cy="540.8" r="2.5"/><circle cx="234.05" cy="540.8" r="2.5"/><circle cx="226.25" cy="544.5" r="2.5"/><circle cx="230.25" cy="544.5" r="2.5"/></g>
<g fill="none" stroke="#000" stroke-width="1.6"><circle cx="228.25" cy="526.9" r="2.5"/><circle cx="236.15" cy="526.25" r="2.5"/><circle cx="228.85" cy="533.5" r="2.5"/><circle cx="224.3" cy="536.25" r="2.5"/><circle cx="232.2" cy="536.25" r="2.5"/><circle cx="220.35" cy="539.4" r="2.5"/><circle cx="224.3" cy="539" r="2.5"/><circle cx="228.25" cy="538.5" r="2.5"/><circle cx="232.2" cy="539" r="2.5"/><circle cx="236.15" cy="539.4" r="2.5"/><circle cx="222.55" cy="542.5" r="2.5"/><circle cx="226.35" cy="542.5" r="2.5"/><circle cx="230.15" cy="542.5" r="2.5"/><circle cx="233.95" cy="542.5" r="2.5"/><circle cx="220.35" cy="546.25" r="2.5"/><circle cx="236.15" cy="546.25" r="2.5"/><circle cx="232.2" cy="545.6" r="2.5"/><circle cx="228.25" cy="549.4" r="2.5"/><circle cx="224.3" cy="545" r="2.5"/><circle cx="228.25" cy="541" r="2.5"/><circle cx="228.25" cy="536" r="2.5"/><circle cx="226.25" cy="540.5" r="2.5"/><circle cx="230.25" cy="540.5" r="2.5"/><circle cx="228.25" cy="543.8" r="2.5"/><circle cx="226.25" cy="537.6" r="2.5"/><circle cx="230.25" cy="537.6" r="2.5"/><circle cx="222.45" cy="540.8" r="2.5"/><circle cx="234.05" cy="540.8" r="2.5"/><circle cx="226.25" cy="544.5" r="2.5"/><circle cx="230.25" cy="544.5" r="2.5"/></g>
<path d="M217.45 540.2 H239.05" stroke="#000" stroke-width="3.1"/>
<path d="M324.8 427.6 V558.5" stroke="#000" stroke-width="2.1" fill="none"/>
<path d="M323.8 557.5 H519.25" stroke="#000" stroke-width="2.1" fill="none"/>
<path d="M319.3 557.5 H324.8" stroke="#000" stroke-width="1.9"/>
<text x="319" y="560.35" text-anchor="end" font-size="9.8" font-weight="bold">0</text>
<path d="M319.3 531.72 H324.8" stroke="#000" stroke-width="1.9"/>
<text x="319" y="534.57" text-anchor="end" font-size="9.8" font-weight="bold">50</text>
<path d="M319.3 505.94 H324.8" stroke="#000" stroke-width="1.9"/>
<text x="319" y="508.79" text-anchor="end" font-size="9.8" font-weight="bold">100</text>
<path d="M319.3 480.16 H324.8" stroke="#000" stroke-width="1.9"/>
<text x="319" y="483.01" text-anchor="end" font-size="9.8" font-weight="bold">150</text>
<path d="M319.3 454.38 H324.8" stroke="#000" stroke-width="1.9"/>
<text x="319" y="457.23" text-anchor="end" font-size="9.8" font-weight="bold">200</text>
<path d="M319.3 428.6 H324.8" stroke="#000" stroke-width="1.9"/>
<text x="319" y="431.45" text-anchor="end" font-size="9.8" font-weight="bold">250</text>
<text transform="translate(291.2 487.45) rotate(-90)" text-anchor="middle" font-size="14.2" font-weight="bold">CXCR4 MFI</text>
<text x="341.6" y="570.9" text-anchor="middle" font-size="9.05" font-weight="bold">Naive</text>
<text x="371.6" y="570.9" text-anchor="middle" font-size="9.05" font-weight="bold">SIV</text>
<text x="408.5" y="570.9" text-anchor="middle" font-size="9.05" font-weight="bold">Naive</text>
<text x="438.4" y="570.9" text-anchor="middle" font-size="9.05" font-weight="bold">SIV</text>
<text x="472.25" y="570.9" text-anchor="middle" font-size="9.05" font-weight="bold">Naive</text>
<text x="502.25" y="570.9" text-anchor="middle" font-size="9.05" font-weight="bold">SIV</text>
<path d="M327.5 578.1 H387" stroke="#000" stroke-width="1.9"/>
<text x="345.5" y="590.8" font-size="10.3" font-weight="bold">CD16<tspan font-size="9.5" dx="0.3" dy="-3.7">+</tspan></text>
<path d="M392 578.1 H450.75" stroke="#000" stroke-width="1.9"/>
<text x="407.5" y="590.8" font-size="10.3" font-weight="bold">CD56<tspan font-size="9.5" dx="0.3" dy="-3.7">+</tspan></text>
<path d="M455.5 578.1 H515" stroke="#000" stroke-width="1.9"/>
<text x="477.5" y="590.8" font-size="10.3" font-weight="bold">DN</text>
<g fill="#000"><circle cx="348.9" cy="513.1" r="2.8"/><circle cx="341" cy="516" r="2.8"/><circle cx="344.95" cy="519.75" r="2.8"/><circle cx="337.05" cy="522.75" r="2.8"/><circle cx="348.9" cy="523.75" r="2.8"/><circle cx="333.1" cy="525.9" r="2.8"/><circle cx="341" cy="526.5" r="2.8"/><circle cx="333.1" cy="532.25" r="2.8"/><circle cx="348.9" cy="533.75" r="2.8"/><circle cx="341" cy="534.4" r="2.8"/><circle cx="341" cy="537" r="2.8"/><circle cx="333.1" cy="538.9" r="2.8"/><circle cx="337.05" cy="538.9" r="2.8"/><circle cx="344.95" cy="538.9" r="2.8"/><circle cx="348.9" cy="538.9" r="2.8"/><circle cx="341" cy="540.75" r="2.8"/><circle cx="333.1" cy="542" r="2.8"/><circle cx="348.9" cy="542" r="2.8"/><circle cx="337.05" cy="542.6" r="2.8"/><circle cx="344.95" cy="542.6" r="2.8"/><circle cx="341" cy="544.5" r="2.8"/><circle cx="338.8" cy="546.4" r="2.8"/><circle cx="343.2" cy="546.4" r="2.8"/><circle cx="333.1" cy="549.75" r="2.8"/><circle cx="337.05" cy="548.25" r="2.8"/><circle cx="344.95" cy="548.25" r="2.8"/><circle cx="348.9" cy="549.75" r="2.8"/><circle cx="341" cy="551.75" r="2.8"/></g>
<path d="M330.2 538.6 H351.8" stroke="#000" stroke-width="3.1"/>
<g fill="#fff" stroke="#000" stroke-width="1.6"><circle cx="373.45" cy="499" r="2.5"/><circle cx="381.35" cy="505.25" r="2.5"/><circle cx="373.45" cy="507.25" r="2.5"/><circle cx="365.55" cy="513.1" r="2.5"/><circle cx="373.45" cy="516.9" r="2.5"/><circle cx="371.55" cy="520.25" r="2.5"/><circle cx="375.35" cy="521.9" r="2.5"/><circle cx="365.55" cy="524.4" r="2.5"/><circle cx="381.35" cy="526.25" r="2.5"/><circle cx="373.45" cy="526.9" r="2.5"/><circle cx="369.5" cy="523.75" r="2.5"/><circle cx="377.4" cy="523.75" r="2.5"/><circle cx="365.55" cy="537" r="2.5"/><circle cx="373.45" cy="537" r="2.5"/><circle cx="375.35" cy="540.1" r="2.5"/><circle cx="369.5" cy="541.1" r="2.5"/><circle cx="365.55" cy="547" r="2.5"/><circle cx="373.45" cy="547.6" r="2.5"/><circle cx="377.4" cy="545.75" r="2.5"/><circle cx="381.35" cy="546.75" r="2.5"/></g>
<path d="M362.65 525 H384.25" stroke="#000" stroke-width="3.1"/>
<g fill="#000"><circle cx="405.9" cy="452.5" r="2.8"/><circle cx="405.9" cy="466" r="2.8"/><circle cx="401.95" cy="468.1" r="2.8"/><circle cx="409.85" cy="467.5" r="2.8"/><circle cx="398" cy="471" r="2.8"/><circle cx="413.8" cy="469" r="2.8"/><circle cx="405.9" cy="475" r="2.8"/><circle cx="401.95" cy="487.4" r="2.8"/><circle cx="398" cy="491" r="2.8"/><circle cx="409.85" cy="489.9" r="2.8"/><circle cx="413.8" cy="492.1" r="2.8"/><circle cx="401.95" cy="494.5" r="2.8"/><circle cx="405.9" cy="494.25" r="2.8"/><circle cx="398" cy="500.75" r="2.8"/><circle cx="413.8" cy="500.1" r="2.8"/><circle cx="405.9" cy="500.75" r="2.8"/><circle cx="404" cy="503.9" r="2.8"/><circle cx="401.95" cy="507.6" r="2.8"/><circle cx="409.85" cy="507.6" r="2.8"/><circle cx="398" cy="511.4" r="2.8"/><circle cx="398" cy="514.5" r="2.8"/><circle cx="405.9" cy="512" r="2.8"/><circle cx="413.8" cy="511.4" r="2.8"/><circle cx="405.9" cy="520.1" r="2.8"/><circle cx="413.8" cy="527.75" r="2.8"/><circle cx="405.9" cy="530.3" r="2.8"/><circle cx="409.85" cy="503.5" r="2.8"/><circle cx="405.9" cy="497.2" r="2.8"/></g>
<path d="M395.1 499.25 H416.7" stroke="#000" stroke-width="3.1"/>
<g fill="#fff" stroke="#000" stroke-width="1.6"><circle cx="438.35" cy="457.5" r="2.5"/><circle cx="430.45" cy="489.75" r="2.5"/><circle cx="446.25" cy="490.6" r="2.5"/><circle cx="438.35" cy="491.5" r="2.5"/><circle cx="434.4" cy="495.1" r="2.5"/><circle cx="442.3" cy="495.1" r="2.5"/><circle cx="434.4" cy="497.6" r="2.5"/><circle cx="446.25" cy="497.6" r="2.5"/><circle cx="430.45" cy="500.1" r="2.5"/><circle cx="438.35" cy="502" r="2.5"/><circle cx="438.35" cy="498" r="2.5"/><circle cx="440.25" cy="497" r="2.5"/><circle cx="434.4" cy="511" r="2.5"/><circle cx="430.45" cy="514.75" r="2.5"/><circle cx="442.3" cy="512.6" r="2.5"/><circle cx="446.25" cy="514.5" r="2.5"/><circle cx="438.35" cy="518.7" r="2.5"/><circle cx="438.35" cy="531.3" r="2.5"/><circle cx="446.25" cy="533.2" r="2.5"/><circle cx="438.35" cy="541" r="2.5"/><circle cx="438.35" cy="494.5" r="2.5"/></g>
<path d="M427.55 498.25 H449.15" stroke="#000" stroke-width="3.1"/>
<g fill="#000"><circle cx="470.8" cy="439.5" r="2.8"/><circle cx="470.8" cy="457.6" r="2.8"/><circle cx="470.8" cy="469.25" r="2.8"/><circle cx="462.9" cy="479.4" r="2.8"/><circle cx="470.8" cy="480.25" r="2.8"/><circle cx="462.9" cy="486.25" r="2.8"/><circle cx="478.7" cy="487.5" r="2.8"/><circle cx="470.8" cy="490.6" r="2.8"/><circle cx="474.75" cy="497.5" r="2.8"/><circle cx="466.85" cy="499.4" r="2.8"/><circle cx="478.7" cy="499.6" r="2.8"/><circle cx="462.9" cy="503.75" r="2.8"/><circle cx="470.8" cy="505" r="2.8"/><circle cx="462.9" cy="509.4" r="2.8"/><circle cx="466.85" cy="508.1" r="2.8"/><circle cx="474.75" cy="509.4" r="2.8"/><circle cx="462.9" cy="511.5" r="2.8"/><circle cx="470.8" cy="514.1" r="2.8"/><circle cx="478.7" cy="513.8" r="2.8"/><circle cx="466.85" cy="517.6" r="2.8"/><circle cx="474.75" cy="517.1" r="2.8"/><circle cx="478.7" cy="519.4" r="2.8"/><circle cx="462.9" cy="522.4" r="2.8"/><circle cx="462.9" cy="524.9" r="2.8"/><circle cx="470.8" cy="523.25" r="2.8"/><circle cx="474.75" cy="524.25" r="2.8"/><circle cx="478.7" cy="527.75" r="2.8"/><circle cx="470.8" cy="531.75" r="2.8"/></g>
<path d="M460 509 H481.6" stroke="#000" stroke-width="3.1"/>
<g fill="#fff" stroke="#000" stroke-width="1.6"><circle cx="503.25" cy="469.7" r="2.5"/><circle cx="499.3" cy="490.4" r="2.5"/><circle cx="511.15" cy="491.9" r="2.5"/><circle cx="495.35" cy="495.4" r="2.5"/><circle cx="503.25" cy="496.9" r="2.5"/><circle cx="507.2" cy="501.9" r="2.5"/><circle cx="495.35" cy="504.75" r="2.5"/><circle cx="511.15" cy="505.6" r="2.5"/><circle cx="503.25" cy="507.3" r="2.5"/><circle cx="495.35" cy="512.5" r="2.5"/><circle cx="511.15" cy="511.25" r="2.5"/><circle cx="507.2" cy="510" r="2.5"/><circle cx="503.25" cy="517.1" r="2.5"/><circle cx="511.15" cy="519.6" r="2.5"/><circle cx="503.25" cy="525.5" r="2.5"/><circle cx="511.15" cy="528.6" r="2.5"/><circle cx="495.35" cy="534" r="2.5"/><circle cx="503.25" cy="535.5" r="2.5"/><circle cx="495.35" cy="544" r="2.5"/><circle cx="511.15" cy="544.5" r="2.5"/><circle cx="503.25" cy="547.4" r="2.5"/></g>
<path d="M492.45 512.2 H514.05" stroke="#000" stroke-width="3.1"/>
</svg>
</body></html>
